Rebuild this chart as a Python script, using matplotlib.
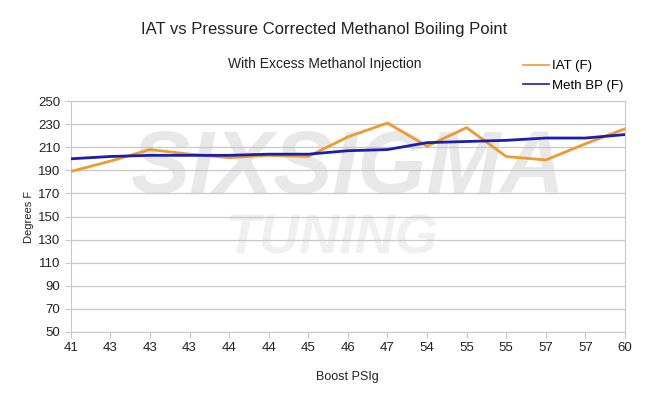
import matplotlib
matplotlib.use("Agg")
import matplotlib.pyplot as plt
from matplotlib.lines import Line2D

boost_labels = ["41", "43", "43", "43", "44", "44", "45", "46", "47", "54", "55", "55", "57", "57", "60"]
iat_f = [189, 198, 208, 204, 201, 203, 202, 219, 231, 211, 227, 202, 199, 213, 226]
meth_bp_f = [200, 202, 203, 203, 203, 204, 204, 207, 208, 214, 215, 216, 218, 218, 221]
y_ticks = list(range(50, 251, 20))

ORANGE = "#EE9A2E"
BLUE = "#1C1CB0"
GRID = "#c8c8c8"
TEXT = "#222222"

plt.rcParams["font.family"] = ["Liberation Sans Narrow", "Liberation Sans", "DejaVu Sans"]

fig = plt.figure(figsize=(6.49, 3.98), dpi=100)
ax = fig.add_axes([0.109, 0.166, 0.854, 0.580])

xs = list(range(len(boost_labels)))

# faint watermark behind the data
ax.text(0.5, 0.70, "SIXSIGMA", transform=ax.transAxes, ha="center", va="center",
        fontsize=64, fontweight="bold", style="italic", color="#e8e8e8", zorder=0)
ax.text(0.47, 0.40, "TUNING", transform=ax.transAxes, ha="center", va="center",
        fontsize=40, fontweight="bold", style="italic", color="#f0f0f0", zorder=0)

ax.plot(xs, iat_f, color=ORANGE, linewidth=2, zorder=3)
ax.plot(xs, meth_bp_f, color=BLUE, linewidth=2, zorder=4)

ax.set_xlim(0, len(xs) - 1)
ax.set_ylim(50, 250)
ax.set_yticks(y_ticks)
ax.set_xticks(xs)
ax.set_xticklabels(boost_labels)
ax.tick_params(axis="both", labelsize=9.5, colors=TEXT, length=4, color=GRID)
ax.grid(axis="y", color=GRID, linewidth=0.9)
ax.set_axisbelow(True)
for spine in ax.spines.values():
    spine.set_color(GRID)

ax.set_xlabel("Boost PSIg", fontsize=9, color=TEXT, labelpad=12)
ax.set_ylabel("Degrees F", fontsize=8, color=TEXT, labelpad=3)

fig.text(0.5, 0.925, "IAT vs Pressure Corrected Methanol Boiling Point",
         ha="center", va="center", fontsize=12, color=TEXT)
fig.text(0.5, 0.84, "With Excess Methanol Injection",
         ha="center", va="center", fontsize=10, color=TEXT)

handles = [
    Line2D([], [], color=ORANGE, linewidth=1.2, label="IAT (F)"),
    Line2D([], [], color=BLUE, linewidth=1.2, label="Meth BP (F)"),
]
fig.legend(handles=handles, loc="upper left", bbox_to_anchor=(0.797, 0.862), frameon=False,
           fontsize=9.5, handlelength=2.0, handletextpad=0.25, labelspacing=0.55,
           borderaxespad=0)

fig.savefig("out.png", dpi=100, facecolor="white")
